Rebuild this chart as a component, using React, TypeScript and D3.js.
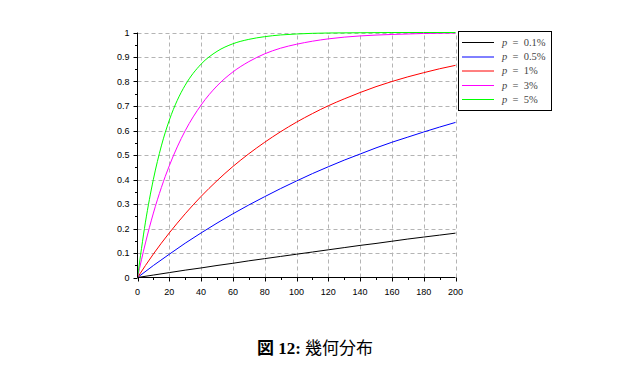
import React from "react";
import * as d3 from "d3";

const nCoarse = [0, 10, 20, 30, 40, 50, 60, 70, 80, 90, 100, 110, 120, 130, 140, 150, 160, 170, 180, 190, 200];
const nFine = [0, 5, 10, 15, 20, 25, 30, 40, 50, 60, 70, 80, 90, 100, 120, 140, 160, 180, 200];

const p01 = [0, 0.010, 0.020, 0.030, 0.039, 0.049, 0.058, 0.068, 0.077, 0.086, 0.095, 0.104, 0.113, 0.122, 0.131, 0.139, 0.148, 0.157, 0.165, 0.173, 0.181];
const p05 = [0, 0.049, 0.095, 0.140, 0.182, 0.222, 0.260, 0.296, 0.330, 0.363, 0.394, 0.424, 0.452, 0.479, 0.504, 0.529, 0.552, 0.573, 0.594, 0.614, 0.633];
const p1 = [0, 0.096, 0.182, 0.260, 0.331, 0.395, 0.453, 0.505, 0.552, 0.595, 0.634, 0.669, 0.701, 0.729, 0.755, 0.779, 0.800, 0.819, 0.836, 0.852, 0.866];
const p3 = [0, 0.141, 0.263, 0.367, 0.456, 0.533, 0.599, 0.704, 0.782, 0.839, 0.881, 0.913, 0.936, 0.952, 0.974, 0.986, 0.992, 0.996, 0.998];
const p5 = [0, 0.226, 0.401, 0.537, 0.642, 0.723, 0.785, 0.871, 0.923, 0.954, 0.972, 0.983, 0.990, 0.994, 0.998, 0.999, 1.0, 1.0, 1.0];

const seriesLabels = ["0.1%", "0.5%", "1%", "3%", "5%"];
const seriesColors = ["#000000", "#0000ff", "#ff0000", "#ff00ff", "#00ff00"];

const xTicks = [0, 20, 40, 60, 80, 100, 120, 140, 160, 180, 200];
const yTicks = [0, 0.1, 0.2, 0.3, 0.4, 0.5, 0.6, 0.7, 0.8, 0.9, 1];

export default function App() {
  const x = d3.scaleLinear().domain([0, 200]).range([137.5, 455.5]);
  const y = d3.scaleLinear().domain([0, 1]).range([277.5, 32.5]);

  const series = [
    { n: nCoarse, v: p01 },
    { n: nCoarse, v: p05 },
    { n: nCoarse, v: p1 },
    { n: nFine, v: p3 },
    { n: nFine, v: p5 },
  ];

  const line = d3
    .line<[number, number]>()
    .x((d) => x(d[0]))
    .y((d) => y(d[1]))
    .curve(d3.curveMonotoneX);

  const xMinor = d3.range(10, 200, 20);
  const yMinor = d3.range(0.05, 1, 0.1);
  const tickFont = "'Liberation Sans', Arial, sans-serif";

  const legX = 458.5;
  const legY = 31.5;
  const legRowY = [42, 56.5, 70.5, 85, 99];

  return (
    <svg
      width={641}
      height={379}
      style={{ position: "absolute", left: 0, top: 0, background: "#fff" }}
    >
      {/* grid */}
      <g stroke="#b4b4b4" strokeWidth={1} strokeDasharray="4,3" fill="none">
        {xTicks.slice(1).map((t) => (
          <line key={"gx" + t} x1={Math.round(x(t)) + 0.5} x2={Math.round(x(t)) + 0.5} y1={y(0)} y2={y(1)} />
        ))}
        {yTicks.slice(1).map((t) => (
          <line key={"gy" + t} x1={x(0)} x2={x(200)} y1={Math.round(y(t)) + 0.5} y2={Math.round(y(t)) + 0.5} />
        ))}
      </g>

      {/* curves */}
      {series.map((s, i) => (
        <path
          key={"s" + i}
          d={line(s.n.map((n, j) => [n, s.v[j]] as [number, number])) || ""}
          fill="none"
          stroke={seriesColors[i]}
          strokeWidth={1}
        />
      ))}

      {/* axes */}
      <g stroke="#000" strokeWidth={1}>
        <line x1={x(0)} x2={x(200)} y1={y(0)} y2={y(0)} />
        <line x1={x(0)} x2={x(0)} y1={y(0)} y2={y(1)} />
        {xTicks.map((t) => (
          <line key={"xt" + t} x1={Math.round(x(t)) + 0.5} x2={Math.round(x(t)) + 0.5} y1={y(0)} y2={y(0) + 4} />
        ))}
        {xMinor.map((t) => (
          <line key={"xm" + t} x1={Math.round(x(t)) + 0.5} x2={Math.round(x(t)) + 0.5} y1={y(0)} y2={y(0) + 2.5} />
        ))}
        {yTicks.map((t) => (
          <line key={"yt" + t} x1={x(0) - 4} x2={x(0)} y1={Math.round(y(t)) + 0.5} y2={Math.round(y(t)) + 0.5} />
        ))}
        {yMinor.map((t) => (
          <line key={"ym" + t} x1={x(0) - 2.5} x2={x(0)} y1={Math.round(y(t)) + 0.5} y2={Math.round(y(t)) + 0.5} />
        ))}
      </g>

      {/* tick labels */}
      <g fontFamily={tickFont} fontSize={9} fill="#000">
        {xTicks.map((t) => (
          <text key={"xl" + t} x={x(t)} y={y(0) + 17} textAnchor="middle">
            {t}
          </text>
        ))}
        {yTicks.map((t) => (
          <text key={"yl" + t} x={x(0) - 8} y={y(t) + 3} textAnchor="end">
            {t}
          </text>
        ))}
      </g>

      {/* legend */}
      <rect x={legX} y={legY} width={93} height={79} fill="#fff" stroke="#000" strokeWidth={1} />
      {seriesLabels.map((lab, i) => (
        <g key={"lg" + i}>
          <line x1={462} x2={494} y1={legRowY[i] + 0.5} y2={legRowY[i] + 0.5} stroke={seriesColors[i]} strokeWidth={1} />
          <text
            x={502}
            y={legRowY[i] + 3.5}
            fontFamily="'Liberation Serif', 'DejaVu Serif', serif"
            fontSize={10.5}
            fill="#444"
            style={{ whiteSpace: "pre" }}
          >
            <tspan fontStyle="italic">p</tspan>
            <tspan>{"  =  " + lab}</tspan>
          </text>
        </g>
      ))}

      {/* caption */}
      <text
        x={315}
        y={354}
        textAnchor="middle"
        fontFamily="'Liberation Serif', 'Noto Sans CJK JP', serif"
        fontSize={17}
        fill="#000"
      >
        <tspan fontWeight="bold" fontFamily="'Noto Sans CJK JP', 'Liberation Serif', serif">図</tspan>
        <tspan fontWeight="bold"> 12: </tspan>
        <tspan fontFamily="'Noto Sans CJK JP', serif">幾何分布</tspan>
      </text>
    </svg>
  );
}
